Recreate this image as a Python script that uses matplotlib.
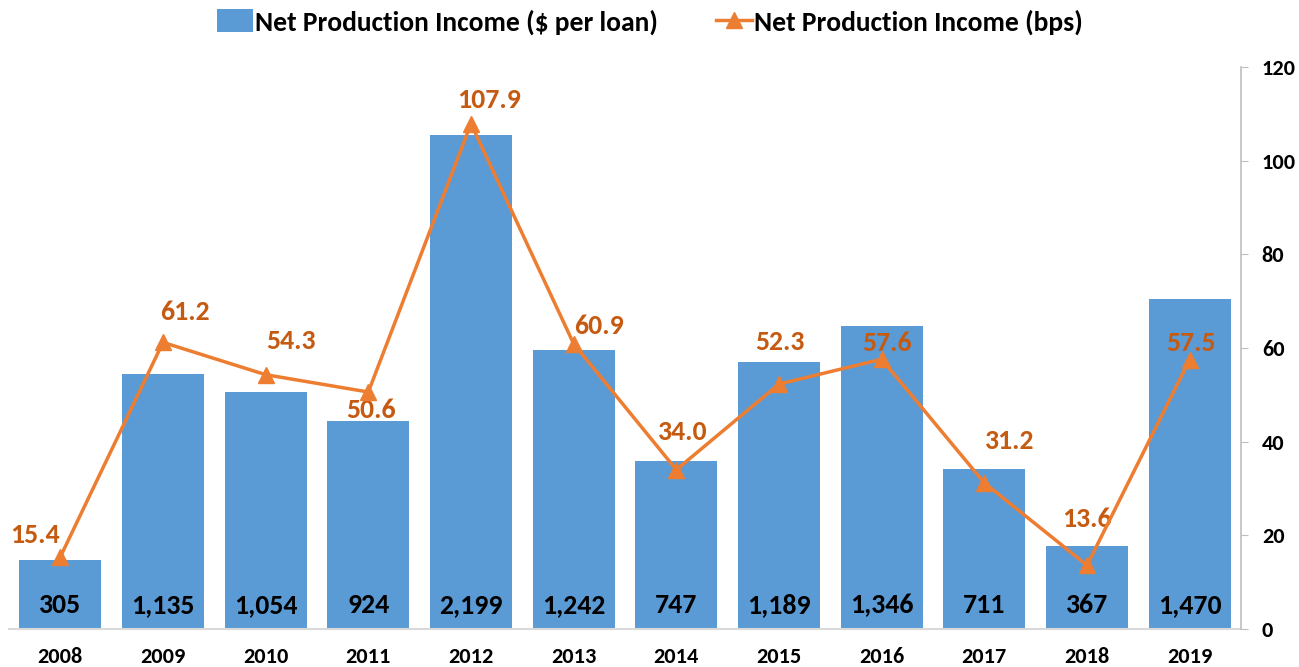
import matplotlib.pyplot as plt
import numpy as np

plt.rcParams['font.family'] = ['Carlito', 'Lato', 'DejaVu Sans']
plt.rcParams['font.weight'] = 'bold'

years = ['2008', '2009', '2010', '2011', '2012', '2013', '2014', '2015', '2016', '2017', '2018', '2019']
per_loan = [305, 1135, 1054, 924, 2199, 1242, 747, 1189, 1346, 711, 367, 1470]
bps = [15.4, 61.2, 54.3, 50.6, 107.9, 60.9, 34.0, 52.3, 57.6, 31.2, 13.6, 57.5]

# label offsets (points) for the bps labels
bps_off = [(-18, 16), (16, 22), (18, 24), (2, -13), (13, 17), (18, 13), (5, 27),
           (1, 30), (4, 12), (18, 30), (0, 33), (1, 12)]

blue = '#5B9BD5'
orange = '#ED7D31'
lab_orange = '#C55A11'

fig = plt.figure(figsize=(12.99, 6.67), dpi=100)
ax = fig.add_axes([9 / 1299, 38 / 667, 1232 / 1299, 562 / 667])
x = np.arange(len(years))

ax.bar(x, per_loan, width=0.8, color=blue, label='Net Production Income ($ per loan)', zorder=2)
ax.set_ylim(0, 2500)
ax.set_xlim(-0.5, len(years) - 0.5)
ax.set_yticks([])
for s in ['left', 'top', 'right']:
    ax.spines[s].set_visible(False)
ax.spines['bottom'].set_color('#D9D9D9')
ax.spines['bottom'].set_linewidth(1.5)
ax.set_xticks(x)
ax.set_xticklabels(years, fontsize=16, fontweight='bold')
ax.tick_params(axis='x', length=0, pad=13)

for xi, v in zip(x, per_loan):
    ax.annotate(f'{v:,}', (xi, 0), xytext=(0, 17), textcoords='offset points',
                ha='center', va='center', fontsize=20, fontweight='bold', color='black', zorder=3)

ax2 = ax.twinx()
ax2.plot(x, bps, color=orange, lw=2.5, marker='^', markersize=12, label='Net Production Income (bps)', zorder=4)
ax2.set_ylim(0, 120)
ax2.set_yticks(range(0, 121, 20))
ax2.set_yticklabels([str(t) for t in range(0, 121, 20)], fontsize=16, fontweight='bold')
ax2.tick_params(axis='y', length=5, color='#BFBFBF', pad=10)
for s in ['left', 'top', 'bottom']:
    ax2.spines[s].set_visible(False)
ax2.spines['right'].set_color('#BFBFBF')
ax2.spines['right'].set_linewidth(1.2)

for xi, v, off in zip(x, bps, bps_off):
    ax2.annotate(f'{v:.1f}', (xi, v), xytext=off, textcoords='offset points',
                 ha='center', va='center', fontsize=20, fontweight='bold', color=lab_orange)

h1, l1 = ax.get_legend_handles_labels()
h2, l2 = ax2.get_legend_handles_labels()
fig.legend(h1 + h2, l1 + l2, loc='center', bbox_to_anchor=(650 / 1299, 1 - 22 / 667), ncol=2,
           frameon=False, handlelength=1.3, handleheight=0.9, handletextpad=0.1, columnspacing=2.1,
           prop={'weight': 'bold', 'size': 19.8})

fig.savefig('out.png', dpi=100)
